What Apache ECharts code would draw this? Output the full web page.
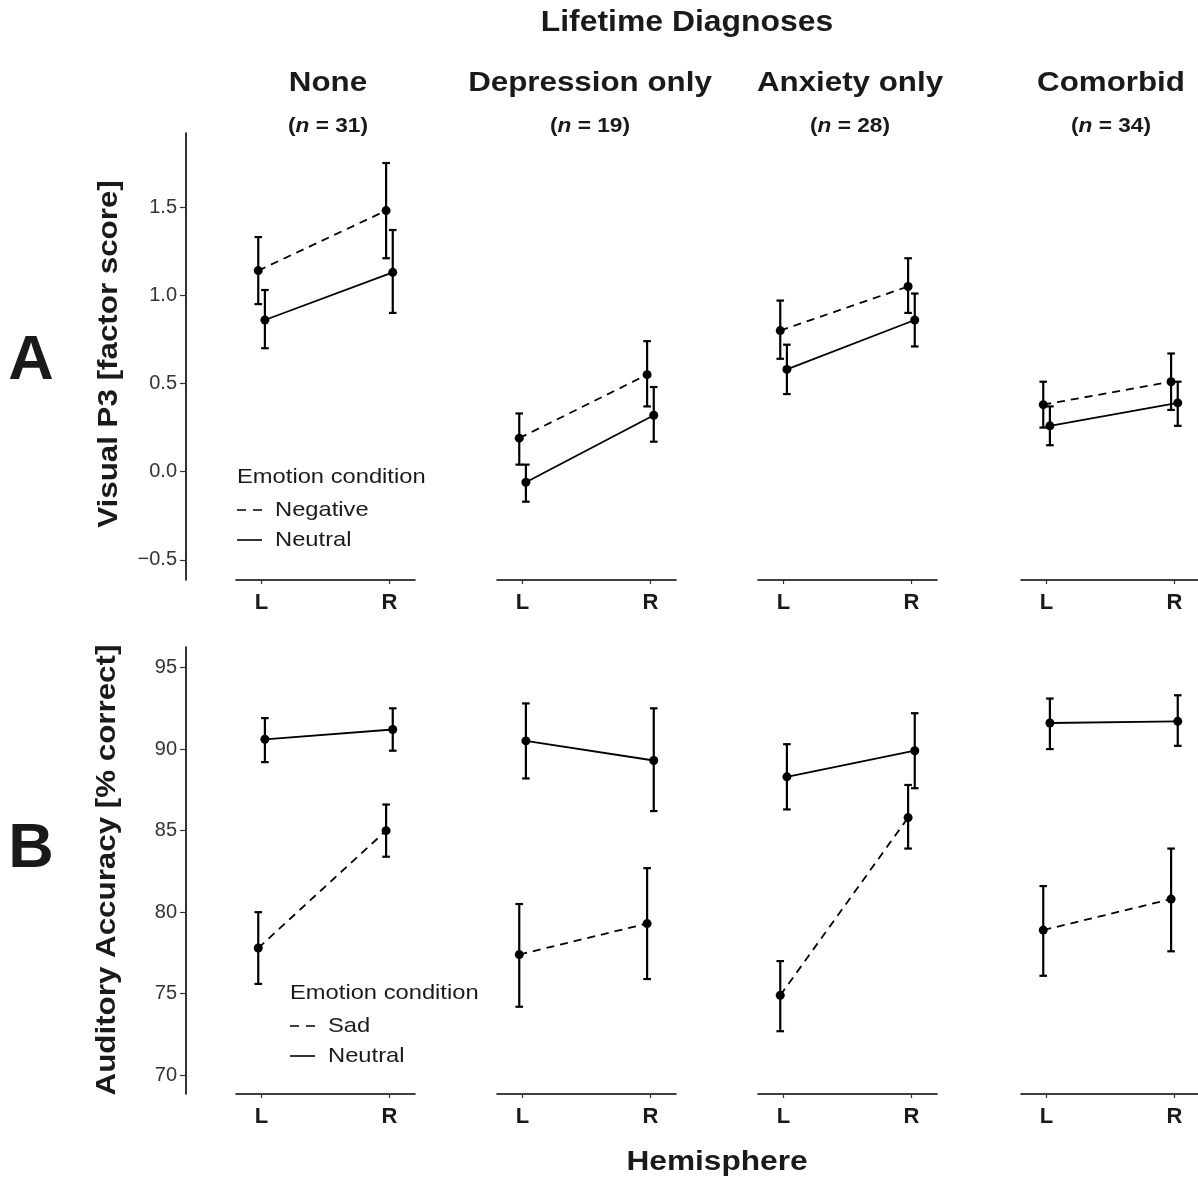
<!DOCTYPE html>
<html>
<head>
<meta charset="utf-8">
<script src="https://cdn.jsdelivr.net/npm/echarts@6/dist/echarts.min.js"></script>
<style>
  html, body { margin: 0; padding: 0; background: #fff; }
  #main { width: 1198px; height: 1179px; }
</style>
</head>
<body>
<div id="main"></div>
<script>
const FONT = "'Liberation Sans', Arial, Helvetica, sans-serif";

// groups / categories
const diagnoses = ['None', 'Depression only', 'Anxiety only', 'Comorbid'];
const groupN = [31, 19, 28, 34];
const hemispheres = ['L', 'R'];

// tick labels
const p3Ticks = [-0.5, 0, 0.5, 1, 1.5];
const accTicks = [70, 75, 80, 85, 90, 95];

// A: visual P3 factor score, per group [L, R]
const p3NegMean = [[1.14, 1.48], [0.19, 0.55], [0.80, 1.05], [0.38, 0.51]];
const p3NegLo   = [[0.95, 1.21], [0.04, 0.37], [0.64, 0.90], [0.25, 0.35]];
const p3NegHi   = [[1.33, 1.75], [0.33, 0.74], [0.97, 1.21], [0.51, 0.67]];
const p3NeuMean = [[0.86, 1.13], [-0.06, 0.32], [0.58, 0.86], [0.26, 0.39]];
const p3NeuLo   = [[0.70, 0.90], [-0.17, 0.17], [0.44, 0.71], [0.15, 0.26]];
const p3NeuHi   = [[1.03, 1.37], [0.04, 0.48], [0.72, 1.01], [0.37, 0.51]];

// B: auditory accuracy (% correct), per group [L, R]
const accSadMean = [[77.8, 85.0], [77.4, 79.3], [74.9, 85.8], [78.9, 80.8]];
const accSadLo   = [[75.6, 83.4], [74.2, 75.9], [72.7, 83.9], [76.1, 77.6]];
const accSadHi   = [[80.0, 86.6], [80.5, 82.7], [77.0, 87.8], [81.6, 83.9]];
const accNeuMean = [[90.6, 91.2], [90.5, 89.3], [88.3, 89.9], [91.6, 91.7]];
const accNeuLo   = [[89.2, 89.9], [88.2, 86.2], [86.3, 87.6], [90.0, 90.2]];
const accNeuHi   = [[91.9, 92.5], [92.8, 92.5], [90.3, 92.2], [93.1, 93.3]];

// layout
const panelLeft = [236, 497, 758, 1021];
const panelWidth = 179;
const rowTop = [133, 647];
const rowHeight = 447;
const yRange = [[-0.614, 1.92], [68.85, 96.26]];
const dodge = [-0.026, 0.026];

const rows = [
  { ticks: p3Ticks, fmt: v => v.toFixed(1).replace('-', '\u2212'),
    conds: [
      { mean: p3NegMean, lo: p3NegLo, hi: p3NegHi, dash: true },
      { mean: p3NeuMean, lo: p3NeuLo, hi: p3NeuHi, dash: false }
    ] },
  { ticks: accTicks, fmt: v => String(v),
    conds: [
      { mean: accSadMean, lo: accSadLo, hi: accSadHi, dash: true },
      { mean: accNeuMean, lo: accNeuLo, hi: accNeuHi, dash: false }
    ] }
];

function errorBar(params, api) {
  const x = api.value(0);
  const a = api.coord([x, api.value(1)]);
  const b = api.coord([x, api.value(2)]);
  const w = 3.8;
  const st = { stroke: '#000', lineWidth: 2.2 };
  return {
    type: 'group',
    children: [
      { type: 'line', shape: { x1: a[0], y1: a[1], x2: b[0], y2: b[1] }, style: st },
      { type: 'line', shape: { x1: a[0] - w, y1: a[1], x2: a[0] + w, y2: a[1] }, style: st },
      { type: 'line', shape: { x1: b[0] - w, y1: b[1], x2: b[0] + w, y2: b[1] }, style: st }
    ]
  };
}

const grid = [], xAxis = [], yAxis = [], series = [];

rows.forEach((row, r) => {
  diagnoses.forEach((d, p) => {
    const gi = r * 4 + p;
    grid.push({
      left: panelLeft[p], top: rowTop[r], width: panelWidth, height: rowHeight,
      containLabel: false, outerBoundsMode: 'none'
    });
    xAxis.push({
      type: 'value', gridIndex: gi, min: 0.8, max: 2.2,
      axisLine: { show: true, onZero: false, lineStyle: { color: '#000', width: 1.6 } },
      axisTick: { show: true, customValues: [1, 2], length: 4, lineStyle: { color: '#333', width: 1.2 } },
      axisLabel: {
        show: true, customValues: [1, 2], margin: 12,
        formatter: v => hemispheres[Math.round(v) - 1],
        fontFamily: FONT, fontSize: 22, fontWeight: 'bold', color: '#1a1a1a'
      },
      splitLine: { show: false }
    });
    const first = p === 0;
    yAxis.push({
      type: 'value', gridIndex: gi, min: yRange[r][0], max: yRange[r][1],
      show: first, offset: first ? 50 : 0,
      axisLine: { show: true, onZero: false, lineStyle: { color: '#000', width: 1.6 } },
      axisTick: { show: true, customValues: row.ticks, length: 6, lineStyle: { color: '#333', width: 1.2 } },
      axisLabel: {
        show: true, customValues: row.ticks, margin: 9, formatter: row.fmt,
        fontFamily: FONT, fontSize: 20, color: '#333'
      },
      splitLine: { show: false }
    });
    row.conds.forEach((c, ci) => {
      const xs = hemispheres.map((h, k) => k + 1 + dodge[ci]);
      series.push({
        type: 'custom', xAxisIndex: gi, yAxisIndex: gi, silent: true, z: 1,
        renderItem: errorBar,
        encode: { x: 0, y: [1, 2] },
        data: xs.map((x, k) => [x, c.lo[p][k], c.hi[p][k]])
      });
      series.push({
        type: 'line', xAxisIndex: gi, yAxisIndex: gi, silent: true, z: 3,
        symbol: 'circle', symbolSize: 9,
        itemStyle: { color: '#000' },
        lineStyle: { color: '#000', width: 1.8, type: c.dash ? [8, 6] : 'solid' },
        data: xs.map((x, k) => [x, c.mean[p][k]])
      });
    });
  });
});

// text elements
const SX = 1.13;
function txt(text, x, y, size, opts) {
  opts = opts || {};
  return {
    type: 'text', x: x, y: y, rotation: opts.rot || 0, scaleX: opts.sx || 1,
    style: {
      text: text, fill: opts.color || '#1a1a1a',
      font: (opts.weight || 'bold') + ' ' + size + 'px ' + FONT,
      align: opts.align || 'center', verticalAlign: 'middle',
      textAlign: opts.align || 'center', textVerticalAlign: 'middle',
      rich: opts.rich
    }
  };
}
const facetCenter = [328, 590, 850, 1111];
const graphic = [
  txt('Lifetime Diagnoses', 687, 23, 29, { sx: 1.1 }),
  txt('Hemisphere', 717, 1162, 28, { sx: SX }),
  txt('A', 31, 362, 63),
  txt('B', 31, 850, 63),
  txt('Visual P3 [factor score]', 110, 354, 27, { rot: Math.PI / 2, sx: 1.16 }),
  txt('Auditory Accuracy [% correct]', 108, 870, 27, { rot: Math.PI / 2, sx: 1.16 })
];
diagnoses.forEach((d, p) => {
  graphic.push(txt(d, facetCenter[p], 84, 27, { sx: 1.16 }));
  graphic.push(txt('({i|n} = ' + groupN[p] + ')', facetCenter[p], 126, 21, {
    sx: 1.08,
    rich: { i: { fontStyle: 'italic', fontWeight: 'bold', fontSize: 21, fontFamily: FONT, fill: '#1a1a1a' } }
  }));
});

// legends
const legendA = { x: 237, y: 477, items: ['Negative', 'Neutral'] };
const legendB = { x: 290, y: 993, items: ['Sad', 'Neutral'] };
[legendA, legendB].forEach(lg => {
  graphic.push(txt('Emotion condition', lg.x, lg.y, 21, { align: 'left', weight: 'normal', sx: SX }));
  lg.items.forEach((name, i) => {
    const yy = lg.y + 33 + i * 30;
    graphic.push({
      type: 'line', shape: { x1: lg.x, y1: yy, x2: lg.x + 25, y2: yy },
      style: { stroke: '#000', lineWidth: 1.6, lineDash: i === 0 ? [9, 7] : null }
    });
    graphic.push(txt(name, lg.x + 38, yy, 21, { align: 'left', weight: 'normal', sx: SX }));
  });
});

const chart = echarts.init(document.getElementById('main'));
chart.setOption({
  backgroundColor: '#fff',
  animation: false,
  grid: grid,
  xAxis: xAxis,
  yAxis: yAxis,
  series: series,
  graphic: graphic
});
</script>
</body>
</html>
